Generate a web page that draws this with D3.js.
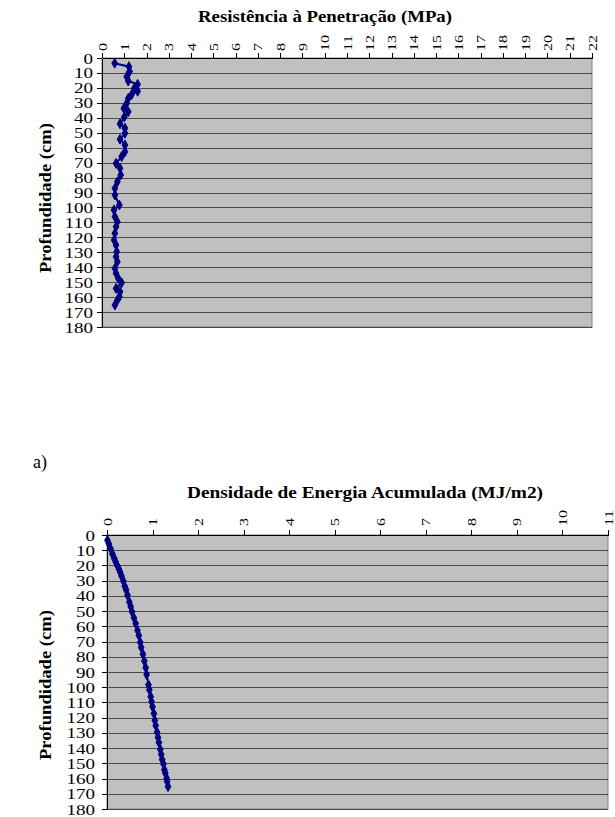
<!DOCTYPE html>
<html>
<head>
<meta charset="utf-8">
<script src="https://cdn.jsdelivr.net/npm/d3@7"></script>
<style>
	body { margin: 0; background: #fff; }
	svg { display: block; }
	text { font-family: 'Liberation Serif', 'Times New Roman', serif; fill: #000; }
	.grid line { stroke: #4a4a4a; stroke-width: 1; }
	.axis path, .axis line { stroke: #000; shape-rendering: crispEdges; }
	.profile { fill: none; stroke: #000080; stroke-width: 2; }
	.marker { fill: #000080; stroke: #000080; stroke-width: 1; }
</style>
</head>
<body>
<script>
// depth of each reading (cm), shared by both profiles
var depthCm = [3.5, 5.8, 9, 12.5, 15.4, 17.6, 20.3, 22.3, 24.5, 27, 30.3, 33.7, 36, 39.5, 44, 47,
	50.4, 54.4, 58.2, 62.7, 66, 70.5, 73.8, 78.3, 82.8, 87.2, 91.7, 98.4, 101.7, 106.2, 109.6,
	112.9, 117.3, 121.8, 125.2, 129.6, 133, 136.3, 140.8, 144.1, 147.5, 150.4, 154.2, 156.4,
	159.8, 162, 165.3];

// a) resistance to penetration (MPa)
var resistanceMPa = [0.57, 1.21, 1.24, 1.11, 1.18, 1.6, 1.45, 1.6, 1.33, 1.18, 1.11, 0.98, 1.18, 1.0, 0.81, 1.03,
	1.03, 0.81, 1.03, 1.03, 0.88, 0.63, 0.81, 0.84, 0.69, 0.58, 0.58, 0.78, 0.54, 0.58, 0.69,
	0.63, 0.58, 0.54, 0.63, 0.66, 0.63, 0.69, 0.58, 0.63, 0.73, 0.88, 0.63, 0.81,
	0.78, 0.69, 0.58];

// b) accumulated energy density (MJ/m2)
var energyMJm2 = [0.01, 0.04, 0.08, 0.12, 0.16, 0.19, 0.23, 0.26, 0.29, 0.32, 0.36, 0.39, 0.42, 0.45, 0.49, 0.52,
	0.55, 0.59, 0.63, 0.67, 0.70, 0.73, 0.75, 0.79, 0.82, 0.85, 0.87, 0.91, 0.93, 0.96, 0.98,
	1.00, 1.03, 1.05, 1.07, 1.10, 1.12, 1.14, 1.17, 1.19, 1.21, 1.24, 1.26, 1.28,
	1.31, 1.32, 1.34];

var depthTicks = [0, 10, 20, 30, 40, 50, 60, 70, 80, 90, 100, 110, 120, 130, 140, 150, 160, 170, 180];
var resistanceTicks = [0, 1, 2, 3, 4, 5, 6, 7, 8, 9, 10, 11, 12, 13, 14, 15, 16, 17, 18, 19, 20, 21, 22];
var energyTicks = [0, 1, 2, 3, 4, 5, 6, 7, 8, 9, 10, 11];

var svg = d3.select('body').append('svg')
	.attr('width', 615)
	.attr('height', 817);

function drawProfileChart(opts) {
	var x = d3.scaleLinear().domain([0, opts.xMax]).range([opts.left, opts.right]);
	var y = d3.scaleLinear().domain([0, 180]).range([opts.top, opts.bottom]);
	var g = svg.append('g');

	g.append('rect')
		.attr('x', opts.left)
		.attr('y', opts.top)
		.attr('width', opts.right - opts.left)
		.attr('height', opts.bottom - opts.top)
		.attr('fill', '#c0c0c0')
		.attr('stroke', '#808080');

	// horizontal gridlines every 10 cm
	g.append('g').attr('class', 'grid')
		.selectAll('line')
		.data(depthTicks.slice(1))
		.enter()
		.append('line')
		.attr('x1', opts.left)
		.attr('x2', opts.right)
		.attr('y1', function (d) { return Math.round(y(d)) + 0.5; })
		.attr('y2', function (d) { return Math.round(y(d)) + 0.5; });

	var xAxis = g.append('g').attr('class', 'axis')
		.attr('transform', 'translate(0,' + opts.top + ')')
		.call(d3.axisTop(x).tickValues(opts.xTicks).tickSize(5).tickSizeOuter(0));
	xAxis.selectAll('text')
		.attr('y', 0)
		.attr('dy', null)
		.attr('x', opts.xLabelGap)
		.attr('transform', 'rotate(-90)')
		.attr('dominant-baseline', 'central')
		.attr('textLength', function (d) { return String(d).length * 8; })
		.attr('lengthAdjust', 'spacingAndGlyphs')
		.style('text-anchor', 'start')
		.style('font-size', '12px')
		.style('font-family', "'Liberation Serif', 'Times New Roman', serif");

	var yAxis = g.append('g').attr('class', 'axis')
		.attr('transform', 'translate(' + opts.left + ',0)')
		.call(d3.axisLeft(y).tickValues(depthTicks).tickSize(5).tickPadding(opts.yLabelGap).tickSizeOuter(0));
	yAxis.selectAll('text')
		.attr('dy', null)
		.attr('dominant-baseline', 'central')
		.attr('textLength', function (d) { return String(d).length * 9.5; })
		.attr('lengthAdjust', 'spacingAndGlyphs')
		.style('font-size', '15px')
		.style('font-family', "'Liberation Serif', 'Times New Roman', serif");

	var line = d3.line()
		.x(function (d) { return x(d.v); })
		.y(function (d) { return y(d.depth); });

	var pts = depthCm.map(function (depth, i) {
		return { depth: depth, v: opts.values[i] };
	});

	g.append('path')
		.attr('class', 'profile')
		.attr('d', line(pts));

	g.selectAll('.marker')
		.data(pts)
		.enter()
		.append('path')
		.attr('class', 'marker')
		.attr('transform', function (d) { return 'translate(' + x(d.v) + ',' + y(d.depth) + ')'; })
		.attr('d', d3.symbol().type(d3.symbolDiamond).size(28));

	g.append('text')
		.attr('x', opts.titleX)
		.attr('y', opts.titleY)
		.attr('text-anchor', 'middle')
		.attr('textLength', opts.titleLength)
		.attr('lengthAdjust', 'spacingAndGlyphs')
		.style('font-size', '17px')
		.style('font-weight', 'bold')
		.text(opts.title);

	g.append('text')
		.attr('transform', 'translate(51,' + opts.yTitleY + ') rotate(-90)')
		.attr('text-anchor', 'middle')
		.attr('textLength', 150)
		.attr('lengthAdjust', 'spacingAndGlyphs')
		.style('font-size', '16px')
		.style('font-weight', 'bold')
		.text('Profundidade (cm)');
}

drawProfileChart({
	values: resistanceMPa,
	xMax: 22,
	xTicks: resistanceTicks,
	left: 102, right: 592, top: 58, bottom: 327,
	xLabelGap: 7,
	yLabelGap: 4,
	title: 'Resistência à Penetração (MPa)',
	titleX: 325, titleY: 22, titleLength: 254,
	yTitleY: 198
});

svg.append('text')
	.attr('x', 33)
	.attr('y', 468)
	.style('font-size', '18px')
	.text('a)');

drawProfileChart({
	values: energyMJm2,
	xMax: 11,
	xTicks: energyTicks,
	left: 107, right: 608, top: 535, bottom: 809,
	xLabelGap: 9,
	yLabelGap: 7,
	title: 'Densidade de Energia Acumulada (MJ/m2)',
	titleX: 365, titleY: 498, titleLength: 356,
	yTitleY: 685
});
</script>
</body>
</html>
